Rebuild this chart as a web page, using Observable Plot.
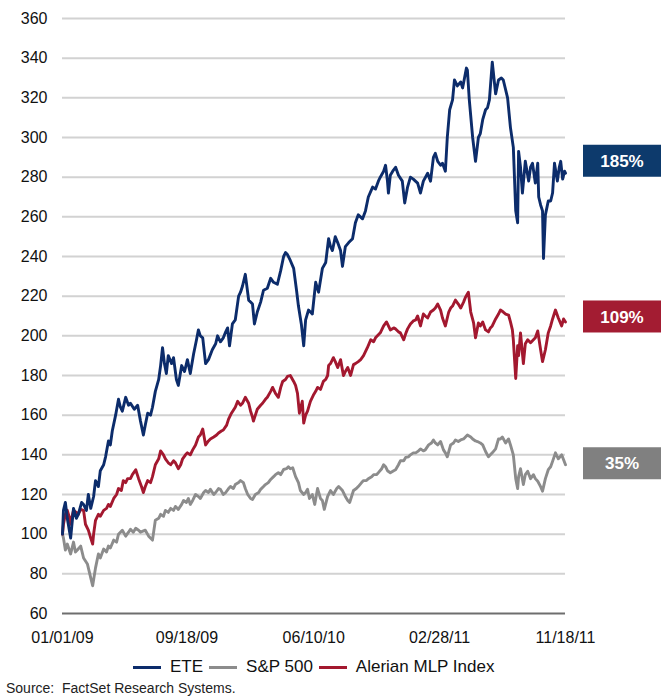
<!DOCTYPE html>
<html><head><meta charset="utf-8">
<script src="https://cdn.jsdelivr.net/npm/d3@7"></script>
<script src="https://cdn.jsdelivr.net/npm/@observablehq/plot@0.6"></script>
<style>
body{margin:0;background:#fff;font-family:"Liberation Sans",Arial,sans-serif;}
#chart svg{display:block}
.legend{display:flex;align-items:center;height:26px;margin-top:2px;font-size:17px;color:#111;padding-left:133px}
.item{display:flex;align-items:center;margin-right:6px}
.sw{display:inline-block;width:28px;height:3px;margin-right:9px}
.source{font-size:14px;padding-left:6px;line-height:16px;color:#222}
</style></head><body>
<div id="chart"></div>
<div class="legend" id="legend"></div>
<div class="source">Source:&nbsp; FactSet Research Systems.</div>
<script>
// days since 2009-01-01
const eteDays = [0,2,6,10,17,23,29,33,40,44,50,54,59,65,69,75,79,86,90,96,100,104,111,117,121,125,132,138,142,150,157,163,169,173,178,184,188,194,201,205,209,213,217,221,228,232,238,242,249,255,261,267,274,280,284,288,293,299,305,313,320,324,330,336,341,345,349,355,361,368,372,376,382,389,393,397,401,407,414,420,428,435,441,449,456,462,466,470,476,483,489,493,499,504,508,514,522,529,535,543,550,556,560,564,570,575,581,585,591,598,606,612,618,627,633,639,648,654,660,664,671,675,679,681,685,690,696,702,710,715,721,727,733,742,748,754,763,769,775,779,784,790,794,800,804,809,815,819,825,832,836,840,844,846,850,857,863,869,873,878,884,888,892,898,905,911,917,921,930,936,942,947,951,953,957,961,967,974,978,982,988,993,995,999,1003,1005,1009,1015,1020,1024,1028,1034,1038,1041,1045,1049,1051];
const eteValues = [100,112,116,108,98,113,108,110,116,115,112,120,113,119,127,124,132,135,139,147,145,152,160,168,164,162,169,165,166,163,165,157,150,155,161,160,164,172,178,185,194,186,181,190,186,189,178,175,185,182,188,181,191,198,203,200,199,186,188,193,196,200,197,199,202,204,195,206,208,220,222,225,231,218,217,216,206,212,217,223,224,229,227,226,233,240,242,241,238,234,223,215,206,195,208,213,211,227,222,234,237,249,245,243,250,247,243,235,245,247,249,257,261,259,263,270,275,274,278,280,283,286,278,272,281,283,285,281,278,267,275,280,279,277,272,278,282,278,290,292,288,286,287,283,300,314,319,329,326,328,325,330,335,334,319,300,288,300,302,309,314,315,319,338,322,329,330,329,320,305,295,263,257,293,285,272,288,278,285,287,277,287,270,266,263,239,261,268,268,272,287,278,285,288,279,283,282];

const spxDays = [0,2,6,10,17,23,27,31,38,44,52,59,63,69,75,79,86,92,96,100,107,113,117,125,132,138,142,148,153,159,163,173,180,188,194,201,205,211,215,221,226,232,236,242,249,253,259,263,267,272,278,284,288,295,299,305,309,316,320,326,330,336,341,347,351,357,361,368,372,378,382,387,393,397,403,410,414,420,424,430,435,441,445,451,456,462,468,472,476,481,487,493,497,504,508,512,516,522,527,533,539,543,547,554,560,566,573,577,581,585,591,596,600,604,608,614,618,625,629,635,639,646,650,656,660,667,671,675,679,685,692,696,702,706,713,717,723,727,733,738,744,748,754,758,765,771,775,779,784,790,796,800,804,811,817,821,827,832,838,846,853,857,863,867,873,878,884,890,894,898,905,911,915,919,926,932,936,942,947,951,953,957,963,967,972,978,984,988,993,999,1003,1009,1015,1020,1024,1030,1036,1043,1047,1051];
const spxValues = [100,98,92,95,90,96,91,92,94,88,85,78,74,83,90,88,92.5,91,94,93,97,96,100,102,99,101,102.5,101,103,102,101,102,99,97,107,108,110,109,112,111,113,112,114,112.5,115,117,116,118,115,117,120,119,118,121,122,121,122.6,120,121,123,122.6,120,121,123,124,123,125,126,127,126,123,120,118,117.5,120,121,122.6,124,125,126,127.6,129,130,131,130,132.6,133,134,133,133.5,129,126,122,120,121,122.6,118,120,115,123,118,117,112.5,119,122,120,123,124,123,122,119,117,116,119,122,123,124,126,127,127,128,129,130,130,131,133,135,134,132,131,132,132.5,135,137,137,138.7,139,140,141,141,142,143,142,142.5,145,146,147.5,146,145,146.7,142.5,141,139,145,146,147.5,146.7,147.5,148,150,149,148,147,146.7,146,145,141.7,139,140,141,143,148,148,149,146,148,145,140,128,123,129,133,125,130,131.7,128,130,128,126.7,124,121.7,128,132.5,134,136.7,141,138,140,137.5,135];

const mlpDays = [0,2,6,10,15,17,21,23,29,33,38,44,48,54,59,63,65,69,75,79,86,92,96,100,107,113,117,123,127,132,136,142,146,153,159,165,169,173,178,184,188,194,201,205,211,215,221,226,232,236,242,247,251,257,261,267,272,278,284,288,293,299,305,309,316,322,326,332,336,343,347,353,357,361,366,372,376,382,389,393,397,399,403,407,414,418,424,428,435,439,445,451,456,460,466,470,476,483,487,491,495,499,501,504,508,512,518,524,529,533,539,545,550,554,556,560,566,570,575,581,587,591,596,602,608,612,618,623,629,633,637,644,650,654,658,664,671,677,681,685,692,696,702,706,713,717,721,727,733,738,742,748,754,758,763,769,775,779,784,790,794,800,807,811,815,821,827,832,838,842,848,853,859,863,869,873,878,884,890,894,898,905,911,915,921,926,932,936,940,942,947,951,953,957,963,967,972,978,984,988,993,999,1003,1009,1015,1020,1024,1030,1036,1043,1047,1051];
const mlpValues = [100,105,110,112,108,105,110,112,111,110,112.5,112,105,102,98,95,100,107,110,109,112,113,115,114,118,120,123,122,127,126,128,128,130,132.5,128,124,121,124,127,126,129,135,138,142,140,138,136,135,137,136,133,135,138,140,141,140,142.5,145,149,150,153,145,147,148,149,150,151,152,152.5,155,158,161,162.5,164,167,165,166,169,166,162,159,157,160,163,165,166,168,169,172,174,171,169,174,177,178,179.5,180,177,175,171,161,165,167,156,160,162,167,170,172,174,173,177,178,180,185,186,189,187,184,188,180,182,184,180,185.5,186,187,188,190,192,194,198,197,199,200,201.5,205,207,205,203,204,203.5,202,201.5,198,201,203.5,206,207.5,208,210,205,211,210,209,212,213,214,216,213,209,205,212,214,215,218,216,214,217,219.5,222,212,206.5,199,206.5,205,207,203,202,204,205,208.5,211,213,212,211,210.5,207,203,198,178.5,195,190,201.5,186,196,198,196.5,198,199,202.5,193,187,193,201.5,205,208.5,213,209,205,208.5,207];

const seriesNames = ["ETE", "S&P 500", "Alerian MLP Index"];
const seriesColors = ["#0c2c6b", "#8c8c8c", "#a3182f"];
const boxLabels = ["185%", "109%", "35%"];
const boxPct = [185, 109, 35];
const boxColors = ["#0d3a6c", "#a31c32", "#808080"];
const boxShift = [-6, -1, -1];
const xTicks = ["2009-01-01", "2009-09-18", "2010-06-10", "2011-02-28", "2011-11-18"];
const yTicks = [60, 80, 100, 120, 140, 160, 180, 200, 220, 240, 260, 280, 300, 320, 340, 360];

const start = new Date(Date.UTC(2009, 0, 1));
const toRows = (days, vals) => days.map((d, i) => ({date: d3.utcDay.offset(start, d), value: vals[i]}));
const ete = toRows(eteDays, eteValues);
const spx = toRows(spxDays, spxValues);
const mlp = toRows(mlpDays, mlpValues);
const tickDates = xTicks.map(s => new Date(s + "T00:00:00Z"));

const boxMark = (index, scales, values, dims) => {
  const g = d3.create("svg:g");
  boxLabels.forEach((t, i) => {
    const yc = scales.y(100 + boxPct[i]) + boxShift[i];
    g.append("rect").attr("x", dims.width - 80).attr("y", yc - 16).attr("width", 78).attr("height", 32).attr("fill", boxColors[i]);
    g.append("text").attr("x", dims.width - 41).attr("y", yc).attr("dy", "0.36em")
      .attr("text-anchor", "middle").attr("fill", "#fff").attr("font-weight", "bold")
      .attr("font-size", 17).text(t);
  });
  return g.node();
};

const chart = Plot.plot({
  width: 663, height: 652,
  marginLeft: 62, marginRight: 98, marginTop: 18, marginBottom: 39,
  style: {fontFamily: "'Liberation Sans', Arial, sans-serif", fontSize: "16px", color: "#111", background: "#fff"},
  x: {type: "utc", domain: [tickDates[0], tickDates[tickDates.length - 1]], ticks: tickDates,
      tickFormat: d3.utcFormat("%m/%d/%y"), tickSize: 0, tickPadding: 18, label: null},
  y: {domain: [60, 360], ticks: yTicks, tickSize: 0, tickPadding: 15, label: null},
  marks: [
    Plot.ruleY(yTicks.filter(v => v > 60), {stroke: "#d2d2d2", strokeWidth: 2}),
    Plot.ruleY([60], {stroke: "#6e6e6e", strokeWidth: 2}),
    Plot.line(spx, {x: "date", y: "value", stroke: seriesColors[1], strokeWidth: 2.9}),
    Plot.line(mlp, {x: "date", y: "value", stroke: seriesColors[2], strokeWidth: 2.9}),
    Plot.line(ete, {x: "date", y: "value", stroke: seriesColors[0], strokeWidth: 2.9}),
    boxMark
  ]
});
document.getElementById("chart").appendChild(chart);

const legend = document.getElementById("legend");
seriesNames.forEach((n, i) => {
  const it = document.createElement("span");
  it.className = "item";
  it.innerHTML = `<span class="sw" style="background:${seriesColors[i]}"></span><span>${n.replace("&", "&amp;")}</span>`;
  legend.appendChild(it);
});
</script>
</body></html>
